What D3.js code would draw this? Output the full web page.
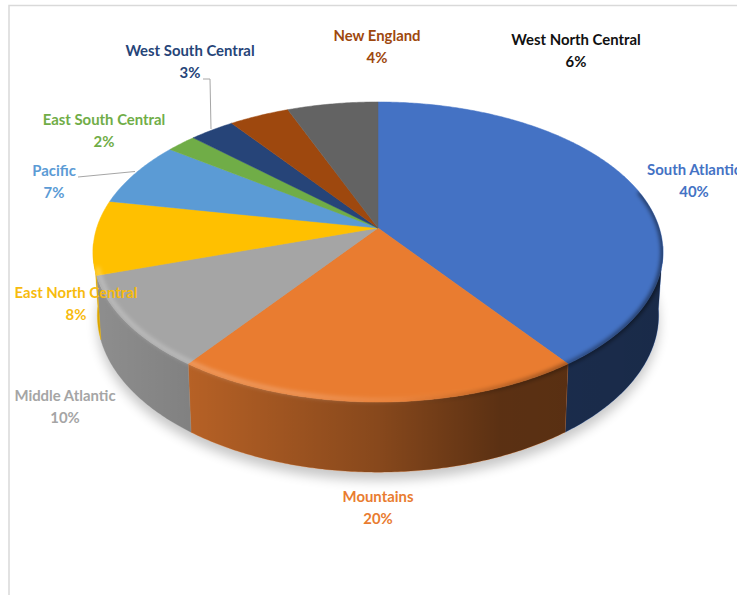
<!DOCTYPE html>
<html>
<head>
<meta charset="utf-8">
<script src="https://cdn.jsdelivr.net/npm/d3@7"></script>
<style>
  html, body { margin: 0; padding: 0; background: #fff; overflow: hidden; }
  text { font-family: Lato, "Open Sans", sans-serif; font-weight: 700; font-size: 14.9px; text-anchor: middle; }
</style>
</head>
<body>
<svg id="chart" width="737" height="595"></svg>
<script>
// Share of total by US census division
const categories = ["South Atlantic", "Mountains", "Middle Atlantic", "East North Central", "Pacific",
                    "East South Central", "West South Central", "New England", "West North Central"];
const shares = [40, 20, 10, 8, 7, 2, 3, 4, 6];
const sliceColors = ["#4472c4", "#e97c30", "#a5a5a5", "#ffc000", "#5b9bd5", "#70ad47", "#264478", "#9e480e", "#636363"];
const labelColors = ["#4472c4", "#e97c30", "#a5a5a5", "#f7bb0e", "#5b9bd5", "#70ad47", "#264478", "#9e480e", "#111111"];

// Label centres, keyed by category order
const labelX = [694, 378, 65, 76, 54, 104, 190, 377, 576];
const labelY = [170, 497, 396, 293, 171, 120, 51, 36, 40];

const svg = d3.select("#chart");
const defs = svg.append("defs");

// Tilted disc: a perspective mapping of the unit circle, top face and underside
const topFace = { cx: 378, cy: 228, a: 281.3, b: 146.2, k: -0.16 };
const baseFace = { cx: 378, cy: 290, a: 277, b: 153, k: -0.16 };

function project(face, angle, r = 1) {
  const u = r * Math.sin(angle), v = -r * Math.cos(angle);
  const w = 1 + face.k * v;
  return [face.cx + face.a * u / w, face.cy + face.b * v / w];
}
function arcPoints(face, a0, a1, r = 1) {
  const n = Math.max(2, Math.ceil(Math.abs(a1 - a0) / 0.01));
  return d3.range(n + 1).map(i => project(face, a0 + (a1 - a0) * i / n, r));
}
const line = d3.line();
const deg = d3.scaleLinear().domain([0, 360]).range([0, 2 * Math.PI]);

const arcs = d3.pie().sort(null).value(d => d)(shares);
const frontStart = deg(97), frontEnd = deg(264);

// Frame around the plot, running off the right and bottom edges
svg.append("path").attr("d", "M737.5,5.5H9V595").attr("fill", "none").attr("stroke", "#d9d9d9").attr("stroke-width", 1.5);

// Filters
const blur = (id, sd) => defs.append("filter").attr("id", id)
  .attr("x", "-10%").attr("y", "-10%").attr("width", "120%").attr("height", "120%")
  .append("feGaussianBlur").attr("stdDeviation", sd);
blur("soft-shadow", 6);
blur("soft-rim", 2.2);
blur("soft-dark", 2.2);

// Horizontal shading helper
function horizontalGradient(id, color, stops) {
  const g = defs.append("linearGradient").attr("id", id).attr("gradientUnits", "userSpaceOnUse")
    .attr("x1", 90).attr("x2", 665).attr("y1", 0).attr("y2", 0);
  const offset = d3.scaleLinear().domain([90, 665]).range([0, 1]);
  stops.forEach(([x, o]) => g.append("stop").attr("offset", offset(x)).attr("stop-color", color).attr("stop-opacity", o));
}
horizontalGradient("wall-shade", "#000", [[95, .14], [190, .22], [378, .42], [500, .61], [665, .63]]);
horizontalGradient("rim-light", "#fff", [[95, .3], [300, .24], [420, .06], [480, 0], [665, 0]]);
horizontalGradient("rim-dark", "#000", [[400, 0], [500, .25], [580, .45], [665, .6]]);

const wholeTop = line(arcPoints(topFace, 0, 2 * Math.PI)) + "Z";
const wholeBase = line(arcPoints(baseFace, 0, 2 * Math.PI)) + "Z";

// Cast shadow under the disc
svg.append("path").attr("d", wholeBase).attr("transform", "translate(0,8)")
  .attr("fill", "#000").attr("opacity", .22).attr("filter", "url(#soft-shadow)");

// Outer walls of the slices that face the viewer
const walls = svg.append("g");
arcs.forEach((d, i) => {
  const a0 = Math.max(d.startAngle, frontStart), a1 = Math.min(d.endAngle, frontEnd);
  if (a1 <= a0) return;
  const outline = line(arcPoints(topFace, a0, a1).concat(arcPoints(baseFace, a1, a0))) + "Z";
  walls.append("path").attr("d", outline).attr("fill", sliceColors[i]).attr("stroke", sliceColors[i]).attr("stroke-width", .4);
  walls.append("path").attr("d", outline).attr("fill", "url(#wall-shade)");
});

// Top faces
const faces = svg.append("g");
arcs.forEach((d, i) => {
  const pts = [project(topFace, 0, 0)].concat(arcPoints(topFace, d.startAngle, d.endAngle));
  faces.append("path").attr("d", line(pts) + "Z").attr("fill", sliceColors[i]).attr("stroke", sliceColors[i]).attr("stroke-width", .5);
});

// Bevel along the rim, kept inside the solid's silhouette
const clip = defs.append("clipPath").attr("id", "solid");
clip.append("path").attr("d", wholeTop);
clip.append("path").attr("d", line(arcPoints(topFace, frontStart, frontEnd).concat(arcPoints(baseFace, frontEnd, frontStart))) + "Z");

const rim = svg.append("g").attr("clip-path", "url(#solid)");
rim.append("path").attr("d", line(arcPoints(topFace, deg(145), deg(255), 0.99)))
  .attr("fill", "none").attr("stroke", "url(#rim-light)").attr("stroke-width", 4).attr("filter", "url(#soft-rim)");
rim.append("path").attr("d", line(arcPoints(topFace, deg(75), deg(200), 1)))
  .attr("fill", "none").attr("stroke", "url(#rim-dark)").attr("stroke-width", 4).attr("filter", "url(#soft-dark)");

// Leader lines
const leaders = [
  [[203, 79], [210, 79], [211, 129]],
  [[78, 177], [135, 171.5]]
];
svg.append("g").selectAll("path").data(leaders).join("path")
  .attr("d", line).attr("fill", "none").attr("stroke", "#a6a6a6").attr("stroke-width", 1);

// Category name with its percentage underneath
const labels = svg.append("g").selectAll("g").data(categories).join("g")
  .attr("fill", (d, i) => labelColors[i])
  .attr("transform", (d, i) => `translate(${labelX[i]},${labelY[i]})`);
labels.append("text").attr("dy", "0.35em").text(d => d);
labels.append("text").attr("y", 22).attr("dy", "0.35em").text((d, i) => shares[i] + "%");
</script>
</body>
</html>
